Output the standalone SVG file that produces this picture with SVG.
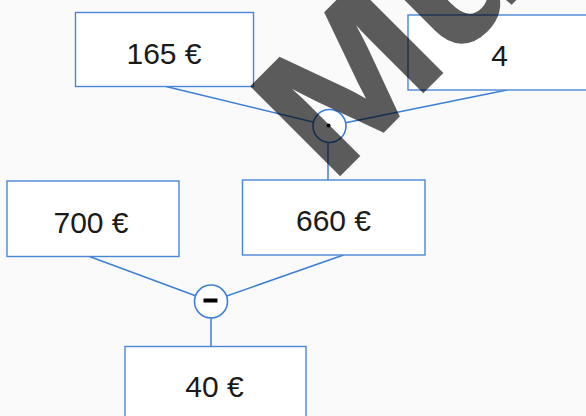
<svg xmlns="http://www.w3.org/2000/svg" width="586" height="416" viewBox="0 0 586 416">
  <style>
    .box { fill: #ffffff; stroke: #4a86d8; stroke-width: 1.4; }
    .line { stroke: #3d7fd6; stroke-width: 1.5; fill: none; }
    .op { fill: #ffffff; stroke: #3d7fd6; stroke-width: 1.6; }
    .lbl { font-family: "Liberation Sans", Arial, sans-serif; font-size: 30px; fill: #1a1a1a; text-anchor: middle; }
    .wm { font-family: "Liberation Sans", Arial, sans-serif; font-weight: bold; font-size: 182px; fill: #000000; stroke: #000000; stroke-width: 2; stroke-linejoin: miter; }
  </style>
  <rect x="0" y="0" width="586" height="416" fill="#fafafa"/>
  <g id="connectors">
    <line class="line" x1="166" y1="86.5" x2="329.5" y2="126"/>
    <line class="line" x1="507" y1="90" x2="329.5" y2="126"/>
    <line class="line" x1="328" y1="126" x2="328" y2="180"/>
    <line class="line" x1="89.5" y1="256.5" x2="211" y2="301.5"/>
    <line class="line" x1="343.5" y1="255" x2="211" y2="301.5"/>
    <line class="line" x1="211" y1="301.5" x2="211" y2="346.5"/>
  </g>
  <g id="n165">
    <rect class="box" x="75.5" y="12.5" width="178" height="74"/>
    <text class="lbl" x="164" y="63.5">165 €</text>
  </g>
  <g id="n4">
    <rect class="box" x="408" y="15" width="190" height="75"/>
    <text class="lbl" x="499.5" y="65.5">4</text>
  </g>
  <g id="opMul">
    <circle class="op" cx="329.5" cy="126" r="16.5"/>
    <circle cx="328.5" cy="125.5" r="2" fill="#000"/>
  </g>
  <g id="n700">
    <rect class="box" x="7" y="181" width="172" height="75.5"/>
    <text class="lbl" x="91" y="232.5">700 €</text>
  </g>
  <g id="n660">
    <rect class="box" x="242.5" y="180" width="182.5" height="75"/>
    <text class="lbl" x="333.5" y="231">660 €</text>
  </g>
  <g id="opSub">
    <circle class="op" cx="211" cy="301.5" r="16.5"/>
    <rect x="203.5" y="298.5" width="14" height="4" fill="#000"/>
  </g>
  <g id="n40">
    <rect class="box" x="125" y="346.5" width="181" height="80"/>
    <text class="lbl" x="214.5" y="397">40 €</text>
  </g>
  <g id="watermark" opacity="0.63">
    <text class="wm" transform="translate(340,175) rotate(-45) scale(1.13,1)" x="-12">Mu</text>
  </g>
</svg>
